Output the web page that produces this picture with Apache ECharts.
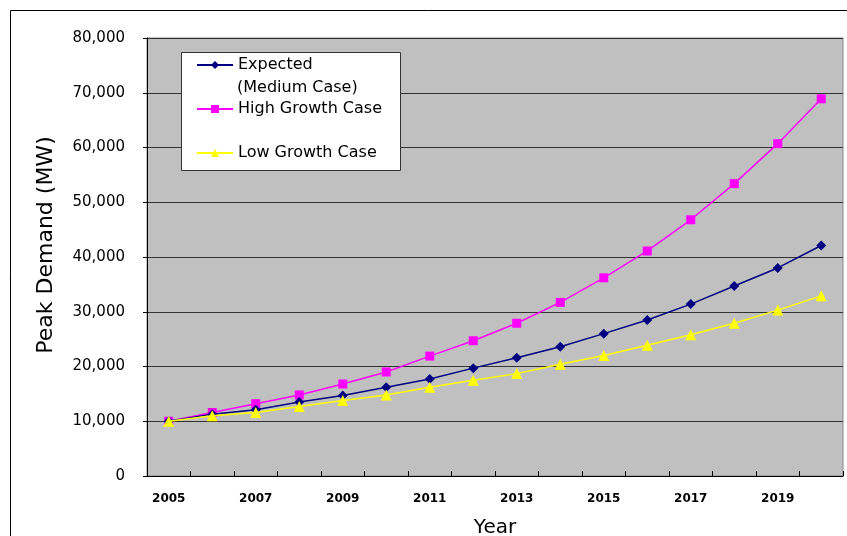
<!DOCTYPE html>
<html>
<head>
<meta charset="utf-8">
<script src="https://cdn.jsdelivr.net/npm/echarts@6/dist/echarts.min.js"></script>
<style>
  html, body { margin: 0; padding: 0; background: #fff; }
  #main { width: 847px; height: 536px; }
</style>
</head>
<body>
<div id="main"></div>
<script>
const years = ['2005', '2006', '2007', '2008', '2009', '2010', '2011', '2012',
  '2013', '2014', '2015', '2016', '2017', '2018', '2019', '2020'];
const expected = [10000, 11300, 12100, 13500, 14700, 16200, 17700, 19700,
  21600, 23600, 26000, 28500, 31400, 34700, 38000, 42100];
const highGrowth = [10000, 11600, 13200, 14800, 16800, 19000, 21900, 24700,
  27900, 31700, 36200, 41100, 46800, 53400, 60700, 68900];
const lowGrowth = [10000, 11000, 11600, 12700, 13800, 14800, 16200, 17500,
  18700, 20400, 22000, 23900, 25800, 27900, 30300, 32900];

const font = '"DejaVu Sans", Verdana, sans-serif';
const chart = echarts.init(document.getElementById('main'), null, { renderer: 'canvas' });

const legendBase = {
  left: 196,
  orient: 'vertical',
  padding: 0,
  itemWidth: 36,
  itemHeight: 10,
  itemGap: 0,
  z: 20,
  selectedMode: false,
  textStyle: { fontFamily: font, fontSize: 16, lineHeight: 20, color: '#000' }
};

chart.setOption({
  animation: false,
  backgroundColor: '#fff',
  grid: {
    left: 147, right: 4, top: 38, bottom: 60,
    outerBoundsMode: 'none',
    show: true, backgroundColor: '#c0c0c0', borderColor: '#888', borderWidth: 1
  },
  graphic: [
    { type: 'line', shape: { x1: 10.5, y1: 10.5, x2: 847, y2: 10.5 }, style: { stroke: '#000', lineWidth: 1 } },
    { type: 'line', shape: { x1: 10.5, y1: 10.5, x2: 10.5, y2: 536 }, style: { stroke: '#000', lineWidth: 1 } },
    { type: 'rect', shape: { x: 181.5, y: 52.5, width: 219, height: 118 }, style: { fill: '#fff', stroke: '#333', lineWidth: 1 }, z: 10 },
    { type: 'text', left: 237, top: 80, style: { text: '(Medium Case)', font: '16px ' + font, fill: '#000' }, z: 30 }
  ],
  legend: [
    Object.assign({}, legendBase, { top: 55, data: ['Expected (Medium Case)'], formatter: () => 'Expected' }),
    Object.assign({}, legendBase, { top: 99, data: ['High Growth Case'] }),
    Object.assign({}, legendBase, { top: 143, data: ['Low Growth Case'] })
  ],
  xAxis: {
    type: 'category',
    data: years,
    boundaryGap: true,
    name: 'Year',
    nameLocation: 'middle',
    nameGap: 42,
    nameTextStyle: { fontFamily: font, fontSize: 20, color: '#000' },
    axisLine: { lineStyle: { color: '#000', width: 1 } },
    axisTick: { show: true, inside: true, length: 5, interval: 0, lineStyle: { color: '#000' } },
    axisLabel: { interval: 1, margin: 17, fontFamily: font, fontSize: 12, fontWeight: 'bold', color: '#000' },
    splitLine: { show: false }
  },
  yAxis: {
    type: 'value',
    min: 0,
    max: 80000,
    interval: 10000,
    name: 'Peak Demand (MW)',
    nameLocation: 'middle',
    nameGap: 90,
    nameTextStyle: { fontFamily: font, fontSize: 22, color: '#000', padding: [0, 0, 0, 24] },
    axisLine: { show: true, lineStyle: { color: '#000', width: 1 } },
    axisTick: { show: true, inside: false, length: 4, lineStyle: { color: '#000' } },
    axisLabel: {
      margin: 22,
      fontFamily: font,
      fontSize: 15,
      color: '#000',
      formatter: v => v.toLocaleString('en-US')
    },
    splitLine: { show: true, lineStyle: { color: '#333', width: 1 } }
  },
  series: [
    {
      name: 'Expected (Medium Case)',
      type: 'line',
      data: expected,
      symbol: 'diamond',
      symbolSize: 10,
      lineStyle: { color: '#000080', width: 1.5 },
      itemStyle: { color: '#000080' },
      z: 3
    },
    {
      name: 'High Growth Case',
      type: 'line',
      data: highGrowth,
      symbol: 'rect',
      symbolSize: 9,
      lineStyle: { color: '#ff00ff', width: 1.5 },
      itemStyle: { color: '#ff00ff' },
      z: 2
    },
    {
      name: 'Low Growth Case',
      type: 'line',
      data: lowGrowth,
      symbol: 'triangle',
      symbolSize: 11,
      lineStyle: { color: '#ffff00', width: 1.5 },
      itemStyle: { color: '#ffff00' },
      z: 4
    }
  ]
});
</script>
</body>
</html>
